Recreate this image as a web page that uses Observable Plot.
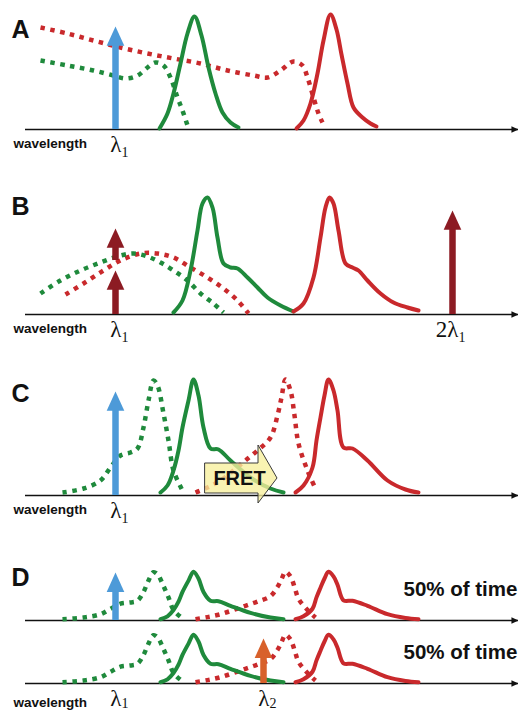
<!DOCTYPE html>
<html>
<head>
<meta charset="utf-8">
<script src="https://cdn.jsdelivr.net/npm/d3@7"></script>
<script src="https://cdn.jsdelivr.net/npm/@observablehq/plot@0.6"></script>
<style>
  html, body { margin: 0; padding: 0; background: #ffffff; }
  #fig { position: relative; width: 518px; height: 711px; overflow: hidden; background: #ffffff; }
  #fig > div { position: absolute; left: 0; }
</style>
</head>
<body>
<div id="fig"></div>
<script>
// ---------------- data (wavelength a.u., intensity a.u.) ----------------
// Panel A
const aGreenAbs = [[40,69],[67,64],[93,59],[113,54],[125,51],[137,54],[147,62],[155,67],[163,64],[170,52],[177,32],[182,19],[187,4]];
const aRedAbs   = [[40,102],[67,96],[93,89],[120,82],[147,76],[173,71],[200,66],[227,59],[253,54],[267,52],[280,59],[293,68],[302,64],[307,52],[313,32],[318,16],[322,7]];
const aGreenEm  = [[159,1],[167,16],[173,36],[180,66],[187,96],[194,113],[201,94],[208,62],[215,36],[222,17],[230,7],[238,2]];
const aRedEm    = [[296,1],[303,9],[310,26],[317,56],[323,89],[330,115],[336,100],[341,75],[347,46],[353,22],[362,12],[370,6],[376,3]];
const aExcitation = [{x:115, from:0, to:103}];
const aLambdas = [{x:115, main:"λ", sub:"1"}];

// Panel B
const bGreenAbs = [[40,21],[60,34],[80,44],[100,52],[120,59],[133,61],[147,58],[160,52],[173,44],[187,34],[200,21],[213,11],[223,2]];
const bRedAbs   = [[65,20],[83,31],[103,44],[120,54],[140,61],[157,61],[173,57],[190,47],[207,37],[223,26],[237,14],[248,1]];
const bGreenEm  = [[173,2],[182,14],[190,44],[197,84],[202,111],[207,117],[212,107],[217,77],[223,51],[230,47],[237,46],[247,37],[257,27],[267,17],[280,9],[293,3]];
const bRedEm    = [[293,3],[303,11],[313,37],[320,77],[325,107],[329,117],[333,111],[338,84],[345,51],[352,47],[358,44],[367,34],[380,21],[393,12],[407,7],[418,4]];
const bExcitation = [{x:115, from:0, to:44},{x:115, from:54, to:86},{x:452, from:0, to:104}];
const bLambdas = [{x:115, main:"λ", sub:"1"},{x:452, main:"2λ", sub:"1"}];

// Panels C and D share the same spectra
const cGreenAbs = [[62,3],[83,7],[100,15],[110,28],[120,40],[130,43],[137,47],[143,68],[148,95],[153,115],[157,110],[163,82],[168,55],[173,25],[182,5]];
const cGreenEm  = [[160,3],[167,10],[173,25],[178,45],[182,68],[188,95],[193,116],[198,100],[203,68],[210,47],[218,46],[230,35],[250,18],[270,7],[283,3]];
const cRedAbs   = [[195,3],[207,8],[220,15],[233,25],[245,35],[257,45],[270,58],[277,80],[281,98],[285,116],[290,105],[294,80],[298,52],[307,25],[315,7]];
const cRedEm    = [[295,3],[303,10],[312,28],[316,55],[320,78],[324,100],[328,116],[333,105],[337,85],[343,48],[352,47],[367,35],[387,15],[405,6],[418,3]];
const cExcitation = [{x:115, from:0, to:104}];
const cLambdas = [{x:115, main:"λ", sub:"1"}];
const fretArrow = [{x:205, lo:2, hi:32},{x:258, lo:2, hi:32},{x:258, lo:-8, hi:50},{x:277, lo:17, hi:17}];
const fretLabel = [{x:239, y:17, text:"FRET"}];

const d1Excitation = [{x:115, from:0, to:114}];
const d2Excitation = [{x:263, from:0, to:107}];
const d2Lambdas = [{x:115, main:"λ", sub:"1"},{x:263, main:"λ", sub:"2"}];
const timeLabel = ["50% of time"];

// ---------------- styles ----------------
const GREEN = "#1f8a3c", RED = "#c9292c", DARKRED = "#8c1b23", BLUE = "#4d9ad8", ORANGE = "#d8612b";
const SANS = "Liberation Sans, Arial, sans-serif";
const SERIF = "Liberation Serif, Times New Roman, serif";

// arrow head symbol: tip at the origin, base below
const arrowHead = {
  draw(context, size) {
    const r = Math.sqrt(size / Math.PI);
    const h = r * 2.2;
    context.moveTo(0, 0);
    context.lineTo(r, h);
    context.lineTo(-r, h);
    context.closePath();
  }
};

function panel(cfg) {
  const pair = {x: d => d[0], y: d => d[1], curve: "catmull-rom"};
  const marks = [
    Plot.ruleY([0], {stroke: "#111", strokeWidth: 1.6}),
    Plot.dot([0], {y: d => d, frameAnchor: "right", symbol: arrowHead, r: 3.2, rotate: 90, fill: "#111", stroke: "none"}),
  ];
  for (const [data, color] of cfg.dotted) {
    marks.push(Plot.line(data, {...pair, stroke: color, strokeWidth: 4.5, strokeDasharray: "4.5,5.5", strokeLinecap: "butt"}));
  }
  for (const [data, color] of cfg.solid) {
    marks.push(Plot.line(data, {...pair, stroke: color, strokeWidth: 4, strokeLinejoin: "round", strokeLinecap: "round"}));
  }
  if (cfg.arrows) {
    // y1 = tip so that insetTop shortens the shaft under the head
    marks.push(Plot.ruleX(cfg.arrows, {x: "x", y1: "to", y2: "from", stroke: cfg.arrowColor, strokeWidth: 6.5, insetTop: 8}));
    marks.push(Plot.dot(cfg.arrows, {x: "x", y: "to", symbol: arrowHead, r: 8.8, fill: cfg.arrowColor, stroke: "none"}));
  }
  if (cfg.extra) marks.push(...cfg.extra);
  if (cfg.letter) {
    marks.push(Plot.text([cfg.letter], {frameAnchor: "top-left", dx: -14, dy: cfg.letterDy, lineAnchor: "bottom", textAnchor: "start",
      fontFamily: SANS, fontWeight: "bold", fontSize: 25, fill: "#111"}));
  }
  if (cfg.wavelengthDy) {
    marks.push(Plot.text(["wavelength"], {frameAnchor: "bottom-left", dx: -12, dy: cfg.wavelengthDy, lineAnchor: "bottom", textAnchor: "start",
      fontFamily: SANS, fontWeight: "bold", fontSize: 13.5, fill: "#111"}));
  }
  if (cfg.lambdas) {
    marks.push(Plot.text(cfg.lambdas, {x: "x", text: "main", frameAnchor: "bottom", dx: 6, dy: cfg.lambdaDy, lineAnchor: "bottom", textAnchor: "end",
      fontFamily: SERIF, fontSize: 23, fill: "#111"}));
    marks.push(Plot.text(cfg.lambdas, {x: "x", text: "sub", frameAnchor: "bottom", dx: 6, dy: cfg.lambdaDy + cfg.subDy, lineAnchor: "bottom", textAnchor: "start",
      fontFamily: SERIF, fontSize: 14, fill: "#111"}));
  }
  if (cfg.note) {
    marks.push(Plot.text(cfg.note, {frameAnchor: "bottom-right", dx: -115, dy: cfg.noteDy, lineAnchor: "bottom", textAnchor: "start",
      fontFamily: SANS, fontWeight: "bold", fontSize: 20.5, fill: "#111"}));
  }
  const svg = Plot.plot({
    width: 518,
    height: cfg.height,
    marginLeft: 25, marginRight: 0, marginTop: 0,
    marginBottom: cfg.height - cfg.baseline,
    style: "background: transparent; overflow: visible;",
    x: {domain: [25, 518], axis: null},
    y: {domain: [0, cfg.baseline / cfg.gain], axis: null},
    marks
  });
  const wrap = document.createElement("div");
  wrap.style.top = cfg.top + "px";
  wrap.appendChild(svg);
  document.getElementById("fig").appendChild(wrap);
}

panel({letter: "A", letterDy: 37, top: 0, height: 160, baseline: 129, gain: 1,
  dotted: [[aRedAbs, RED], [aGreenAbs, GREEN]], solid: [[aGreenEm, GREEN], [aRedEm, RED]],
  arrows: aExcitation, arrowColor: BLUE, lambdas: aLambdas, lambdaDy: 22, subDy: 5, wavelengthDy: 18});

panel({letter: "B", letterDy: 49, top: 165, height: 180, baseline: 149, gain: 1,
  dotted: [[bRedAbs, RED], [bGreenAbs, GREEN]], solid: [[bGreenEm, GREEN], [bRedEm, RED]],
  arrows: bExcitation, arrowColor: DARKRED, lambdas: bLambdas, lambdaDy: 22, subDy: 5, wavelengthDy: 18});

panel({letter: "C", letterDy: 51, top: 350, height: 180, baseline: 145, gain: 1,
  dotted: [[cGreenAbs, GREEN], [cRedAbs, RED]], solid: [[cGreenEm, GREEN], [cRedEm, RED]],
  arrows: cExcitation, arrowColor: BLUE, lambdas: cLambdas, lambdaDy: 22, subDy: 5, wavelengthDy: 18,
  extra: [
    Plot.areaY(fretArrow, {x: "x", y1: "lo", y2: "hi", curve: "linear", fill: "#f7ef9c", fillOpacity: 0.78, stroke: "#3a3a3a", strokeWidth: 1}),
    Plot.text(fretLabel, {x: "x", y: "y", text: "text", fontFamily: SANS, fontWeight: "bold", fontSize: 20, fill: "#111"})
  ]});

panel({letter: "D", letterDy: 40, top: 545, height: 88, baseline: 75, gain: 0.42,
  dotted: [[cGreenAbs, GREEN], [cRedAbs, RED]], solid: [[cGreenEm, GREEN], [cRedEm, RED]],
  arrows: d1Excitation, arrowColor: BLUE, note: timeLabel, noteDy: -25});

panel({top: 628, height: 83, baseline: 55, gain: 0.42,
  dotted: [[cGreenAbs, GREEN], [cRedAbs, RED]], solid: [[cGreenEm, GREEN], [cRedEm, RED]],
  arrows: d2Excitation, arrowColor: ORANGE, note: timeLabel, noteDy: -25,
  lambdas: d2Lambdas, lambdaDy: 22, subDy: 2, wavelengthDy: 23});
</script>
</body>
</html>
